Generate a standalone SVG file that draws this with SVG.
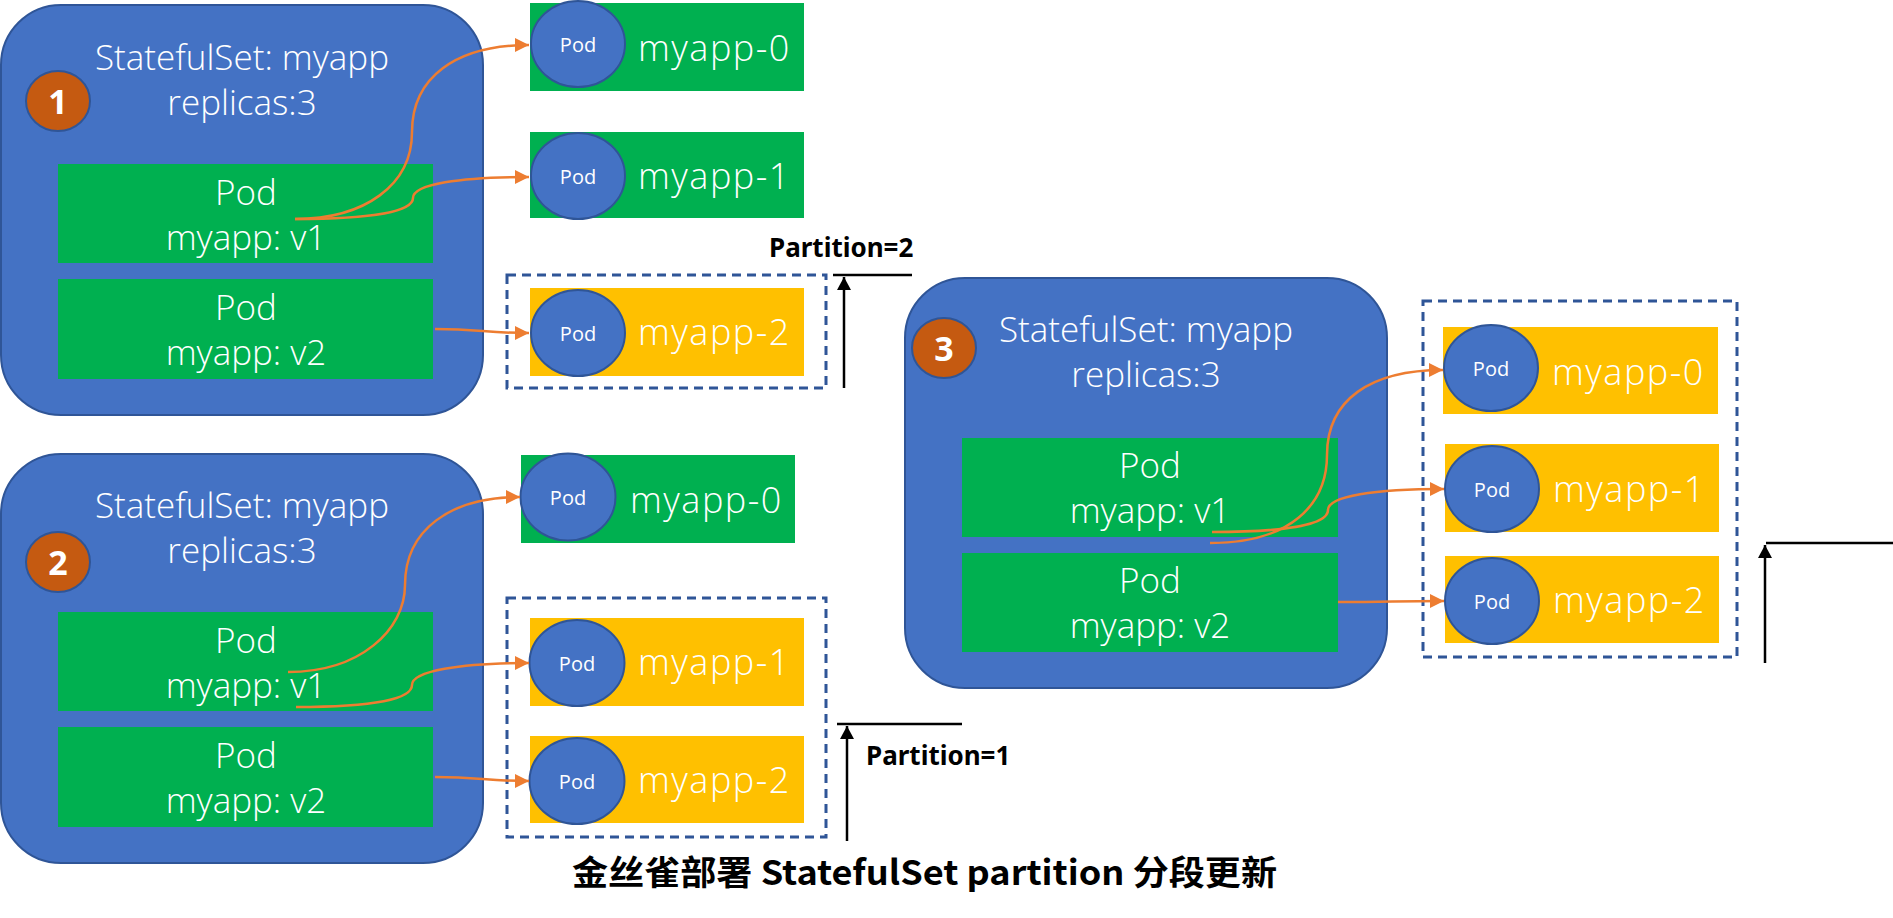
<svg xmlns="http://www.w3.org/2000/svg" width="1893" height="918" viewBox="0 0 1893 918">
<style>
.set{fill:#4472C4;stroke:#2F5597;stroke-width:2}
.badge{fill:#C55A11;stroke:#2F5597;stroke-width:2}
.bnum{fill:#fff;font-family:"Noto Sans","Liberation Sans",sans-serif;font-weight:bold;font-size:34px;text-anchor:middle}
.wt{fill:#fff;font-family:"Open Sans","Noto Sans","Liberation Sans",sans-serif;font-weight:300;font-size:35px;text-anchor:middle}
.green{fill:#00B050}
.yellow{fill:#FFC000}
.pod{fill:#4472C4;stroke:#2F5597;stroke-width:2}
.podt{fill:#fff;font-family:"Open Sans","Noto Sans","Liberation Sans",sans-serif;font-size:20px;text-anchor:middle}
.name{fill:#fff;font-family:"Open Sans","Noto Sans","Liberation Sans",sans-serif;font-weight:300;font-size:36px;letter-spacing:1.5px}
.dash{fill:none;stroke:#2F5597;stroke-width:3;stroke-dasharray:9 6}
.conn{fill:none;stroke:#ED7D31;stroke-width:2.5;marker-end:url(#oa)}
.blk{fill:none;stroke:#000;stroke-width:2.5}
.part{fill:#000;font-family:"Noto Sans","Liberation Sans",sans-serif;font-weight:bold;font-size:26px}
</style>
<defs>
<marker id="oa" markerUnits="userSpaceOnUse" markerWidth="16" markerHeight="14" refX="14" refY="7" orient="auto"><path d="M0,0 L14,7 L0,14 z" fill="#ED7D31"/></marker>
<marker id="ka" markerUnits="userSpaceOnUse" markerWidth="16" markerHeight="14" refX="13" refY="7" orient="auto"><path d="M0,0 L13,7 L0,14 z" fill="#000"/></marker>
</defs>
<rect width="1893" height="918" fill="#fff"/>

<!-- Panel 1 -->
<g id="set1">
<rect class="set" x="1" y="5" width="482" height="410" rx="60" ry="60"/>
<ellipse class="badge" cx="58" cy="101" rx="32" ry="30"/>
<text class="bnum" x="58" y="114">1</text>
<text class="wt" x="242" y="70">StatefulSet: myapp</text>
<text class="wt" x="242" y="115">replicas:3</text>
</g>
<g id="set1-pod-v1">
<rect class="green" x="58" y="164" width="375" height="99"/>
<text class="wt" x="246" y="205">Pod</text>
<text class="wt" x="246" y="250">myapp: v1</text>
</g>
<g id="set1-pod-v2">
<rect class="green" x="58" y="279" width="375" height="100"/>
<text class="wt" x="246" y="320">Pod</text>
<text class="wt" x="246" y="365">myapp: v2</text>
</g>
<g id="p1-myapp-0">
<rect class="green" x="530" y="3" width="274" height="88"/>
<ellipse class="pod" cx="578" cy="44" rx="47" ry="43"/>
<text class="podt" x="578" y="52">Pod</text>
<text class="name" x="638" y="61">myapp-0</text>
</g>
<g id="p1-myapp-1">
<rect class="green" x="530" y="132" width="274" height="86"/>
<ellipse class="pod" cx="578" cy="176" rx="47" ry="43"/>
<text class="podt" x="578" y="184">Pod</text>
<text class="name" x="638" y="189">myapp-1</text>
</g>
<g id="p1-myapp-2">
<rect class="yellow" x="530" y="288" width="274" height="88"/>
<ellipse class="pod" cx="578" cy="333" rx="47" ry="43"/>
<text class="podt" x="578" y="341">Pod</text>
<text class="name" x="638" y="345">myapp-2</text>
</g>
<g id="p1-partition">
<rect class="dash" x="507" y="275" width="319" height="113"/>
<line class="blk" x1="833" y1="275" x2="912" y2="275"/>
<text class="part" x="769" y="257">Partition=2</text>
</g>

<!-- Panel 2 -->
<g id="set2">
<rect class="set" x="1" y="454" width="482" height="409" rx="60" ry="60"/>
<ellipse class="badge" cx="58" cy="562" rx="32" ry="30"/>
<text class="bnum" x="58" y="575">2</text>
<text class="wt" x="242" y="518">StatefulSet: myapp</text>
<text class="wt" x="242" y="563">replicas:3</text>
</g>
<g id="set2-pod-v1">
<rect class="green" x="58" y="612" width="375" height="99"/>
<text class="wt" x="246" y="653">Pod</text>
<text class="wt" x="246" y="698">myapp: v1</text>
</g>
<g id="set2-pod-v2">
<rect class="green" x="58" y="727" width="375" height="100"/>
<text class="wt" x="246" y="768">Pod</text>
<text class="wt" x="246" y="813">myapp: v2</text>
</g>
<g id="p2-myapp-0">
<rect class="green" x="521" y="455" width="274" height="88"/>
<ellipse class="pod" cx="568" cy="497" rx="47.5" ry="43.5"/>
<text class="podt" x="568" y="505">Pod</text>
<text class="name" x="630" y="513">myapp-0</text>
</g>
<g id="p2-myapp-1">
<rect class="yellow" x="530" y="618" width="274" height="88"/>
<ellipse class="pod" cx="577" cy="663" rx="47.5" ry="43"/>
<text class="podt" x="577" y="671">Pod</text>
<text class="name" x="638" y="675">myapp-1</text>
</g>
<g id="p2-myapp-2">
<rect class="yellow" x="530" y="736" width="274" height="87"/>
<ellipse class="pod" cx="577" cy="781" rx="47.5" ry="43"/>
<text class="podt" x="577" y="789">Pod</text>
<text class="name" x="638" y="793">myapp-2</text>
</g>
<g id="p2-partition">
<rect class="dash" x="507" y="598" width="319" height="239"/>
<line class="blk" x1="837" y1="724" x2="962" y2="724"/>
<text class="part" x="866" y="765">Partition=1</text>
</g>

<!-- Panel 3 -->
<g id="set3">
<rect class="set" x="905" y="278" width="482" height="410" rx="60" ry="60"/>
<ellipse class="badge" cx="944" cy="348" rx="32" ry="30"/>
<text class="bnum" x="944" y="361">3</text>
<text class="wt" x="1146" y="342">StatefulSet: myapp</text>
<text class="wt" x="1146" y="387">replicas:3</text>
</g>
<g id="set3-pod-v1">
<rect class="green" x="962" y="438" width="376" height="99"/>
<text class="wt" x="1150" y="478">Pod</text>
<text class="wt" x="1150" y="523">myapp: v1</text>
</g>
<g id="set3-pod-v2">
<rect class="green" x="962" y="553" width="376" height="99"/>
<text class="wt" x="1150" y="593">Pod</text>
<text class="wt" x="1150" y="638">myapp: v2</text>
</g>
<g id="p3-myapp-0">
<rect class="yellow" x="1443" y="327" width="275" height="87"/>
<ellipse class="pod" cx="1491" cy="368" rx="47" ry="43"/>
<text class="podt" x="1491" y="376">Pod</text>
<text class="name" x="1552" y="385">myapp-0</text>
</g>
<g id="p3-myapp-1">
<rect class="yellow" x="1445" y="444" width="274" height="88"/>
<ellipse class="pod" cx="1492" cy="489" rx="47" ry="43"/>
<text class="podt" x="1492" y="497">Pod</text>
<text class="name" x="1553" y="502">myapp-1</text>
</g>
<g id="p3-myapp-2">
<rect class="yellow" x="1445" y="556" width="274" height="87"/>
<ellipse class="pod" cx="1492" cy="601" rx="47" ry="43"/>
<text class="podt" x="1492" y="609">Pod</text>
<text class="name" x="1553" y="613">myapp-2</text>
</g>
<g id="p3-partition">
<rect class="dash" x="1423" y="301" width="314" height="356"/>
<line class="blk" x1="1766" y1="543" x2="1893" y2="543"/>
</g>

<!-- Connectors -->
<g id="connectors">
<path class="conn" d="M295,219 C365,219 412,185 412,132 C412,78 455,45 529,45"/>
<path class="conn" d="M295,219 C370,219 413,212 413,198 C413,184 460,177 529,177"/>
<path class="conn" d="M435,329 C480,329 485,333 529,333"/>
<path class="conn" d="M288,672 C360,672 405,630 405,585 C405,530 450,497 520,497"/>
<path class="conn" d="M296,707 C375,707 412,699 412,685 C412,671 460,663 529,663"/>
<path class="conn" d="M435,777 C480,777 485,781 529,781"/>
<path class="conn" d="M1210,543 C1290,543 1327,505 1327,455 C1327,400 1370,370 1443,370"/>
<path class="conn" d="M1212,532 C1290,532 1328,524 1328,510 C1328,496 1375,489 1444,489"/>
<path class="conn" d="M1338,602 C1390,602 1395,601 1444,601"/>
<line class="blk" x1="844" y1="388" x2="844" y2="277" marker-end="url(#ka)"/>
<line class="blk" x1="847" y1="841" x2="847" y2="726" marker-end="url(#ka)"/>
<line class="blk" x1="1765" y1="663" x2="1765" y2="545" marker-end="url(#ka)"/>
</g>

<text x="572" y="885" textLength="705" lengthAdjust="spacingAndGlyphs" font-family="'Noto Sans CJK SC','Noto Sans',sans-serif" font-weight="bold" font-size="34" fill="#000">金丝雀部署 StatefulSet partition 分段更新</text>
</svg>
